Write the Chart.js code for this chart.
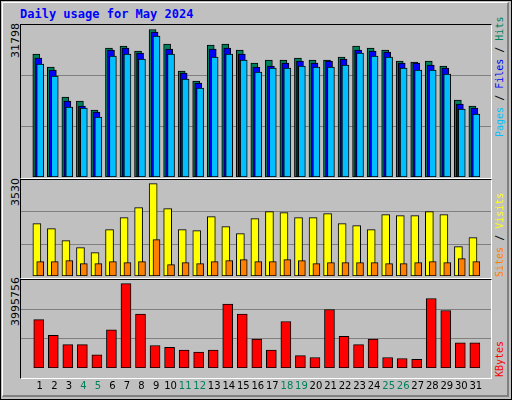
<!DOCTYPE html>
<html><head><meta charset="utf-8">
<script src="https://cdn.jsdelivr.net/npm/chart.js@4"></script>
<style>
body{margin:0;width:512px;height:400px;overflow:hidden;background:#fff}
#frame{position:absolute;left:0;top:0;width:510px;height:398px;border:1px solid #000;background:#c0c0c0}
#inner{position:absolute;left:1px;top:1px;width:504px;height:392px;border-top:1px solid #fff;border-left:1px solid #fff;border-right:2px solid #808080;border-bottom:2px solid #808080}
.plot{position:absolute;left:20px;width:470px;border-top:1px solid #000;border-left:1px solid #000;border-right:1px solid #fff;border-bottom:1px solid #fff}
canvas{position:absolute}
.txt{position:absolute;font-family:"DejaVu Sans Mono",monospace;font-size:12px;white-space:nowrap;line-height:1}
.rot{transform-origin:0 0;transform:rotate(-90deg)}
.side{font-size:10px}
.num{font-family:"DejaVu Sans",sans-serif;font-size:11px}
</style></head><body>
<div id="frame"><div id="inner"></div></div>
<div class="plot" style="top:24px;height:153px"></div>
<div class="plot" style="top:179px;height:98px"></div>
<div class="plot" style="top:279px;height:98px"></div>
<div class="txt" style="left:20px;top:8px;color:#0000ff;font-weight:bold">Daily usage for May 2024</div>
<div class="txt rot num" style="left:10px;top:58px">31798</div>
<div class="txt rot num" style="left:10px;top:206px">3530</div>
<div class="txt rot num" style="left:10px;top:326px">3995756</div>
<div class="txt rot side" style="left:495px;top:137px"><span style="color:#00c0ff">Pages</span> / <span style="color:#0000ff">Files</span> / <span style="color:#00805c">Hits</span></div>
<div class="txt rot side" style="left:495px;top:277px"><span style="color:#ff8000">Sites</span> / <span style="color:#ffff00">Visits</span></div>
<div class="txt rot side" style="left:495px;top:377px"><span style="color:#ff0000">KBytes</span></div>
<canvas id="c1" width="470" height="152" style="left:21px;top:25px"></canvas>
<canvas id="c2" width="470" height="96" style="left:21px;top:180px"></canvas>
<canvas id="c3" width="470" height="116" style="left:21px;top:280px"></canvas>
<script>
const days = Array.from({length: 31}, (_, i) => i + 1);
const weekendDays = [4, 5, 11, 12, 18, 19, 25, 26];
const hits = [26519,23716,17248,16386,14445,27812,28244,27166,31798,28675,22854,20698,28459,28675,27381,24578,25225,25225,25656,25225,25225,25872,28244,27812,27381,25010,24794,25010,23932,16601,15308];
const files = [25656,23069,16386,15308,14014,27381,27812,26734,31262,27597,22422,20266,27597,27812,26519,23716,23932,24578,25010,24578,25010,25441,27381,27166,26950,24578,24578,24147,23500,15739,14876];
const pages = [24363,21776,15092,14876,12936,26088,26519,25441,30400,26519,21129,19188,25872,26519,25225,22638,23500,23500,23932,23716,23716,24147,26734,26088,25872,23500,23069,23069,22207,14661,13583];
const visits = [2001,1810,1351,1083,892,1771,2230,2613,3530,2574,1771,1733,2268,1886,1618,2192,2460,2421,2230,2230,2383,2001,1924,1771,2345,2307,2307,2460,2345,1121,1466];
const sites = [548,548,586,472,472,548,510,548,1389,433,510,472,548,586,624,548,548,624,586,472,510,510,510,510,472,472,510,548,510,663,548];
const kbytes = [2289531,1545798,1108308,1108308,627069,1808292,3995756,2552025,1064559,977061,845814,758316,845814,3033264,2552025,1370802,845814,2202033,583320,495822,2770770,1502049,1108308,1370802,495822,452073,408324,3295758,2727021,1195806,1195806];

const pts = (arr, off) => arr.map((v, i) => ({x: days[i] + off, y: v}));
const ds = (label, arr, off, color, w, order) => ({
  label, data: pts(arr, off), backgroundColor: color, borderColor: '#000',
  borderWidth: 1, borderSkipped: false, barThickness: w, grouped: false, order
});

function makeChart(id, datasets, ymax, showX) {
  return new Chart(document.getElementById(id), {
    type: 'bar',
    data: {datasets},
    options: {
      responsive: false, animation: false,
      layout: {padding: 0},
      plugins: {legend: {display: false}, tooltip: {enabled: false}},
      scales: {
        x: {
          type: 'linear', min: 0.33, max: 31.62, display: showX,
          grid: {display: false}, border: {display: false},
          afterBuildTicks: s => { s.ticks = days.map(d => ({value: d + 0.1})); },
          ticks: {
            autoSkip: false, maxRotation: 0, padding: 4,
            font: {family: 'DejaVu Sans', size: 10},
            callback: v => Math.round(v - 0.1),
            color: c => weekendDays.includes(Math.round(c.tick.value - 0.1)) ? '#00805c' : '#000'
          }
        },
        y: {
          min: 0, max: ymax, display: true,
          afterFit: s => { s.width = 0; },
          afterBuildTicks: s => { s.ticks = [{value: ymax / 3}, {value: ymax * 2 / 3}]; },
          ticks: {display: false},
          grid: {color: '#808080', lineWidth: 1, drawTicks: false},
          border: {display: false}
        }
      }
    }
  });
}

makeChart('c1', [
  ds('Hits', hits, -0.14, '#00805c', 7, 3),
  ds('Files', files, 0, '#0000ff', 7, 2),
  ds('Pages', pages, 0.13, '#00c0ff', 7, 1)
], 32768, false);
makeChart('c2', [
  ds('Visits', visits, -0.1, '#ffff00', 8, 2),
  ds('Sites', sites, 0.13, '#ff8000', 7, 1)
], 3671, false);
makeChart('c3', [
  ds('KBytes', kbytes, 0.03, '#ff0000', 10, 1)
], 4170754, true);
</script>
</body></html>
